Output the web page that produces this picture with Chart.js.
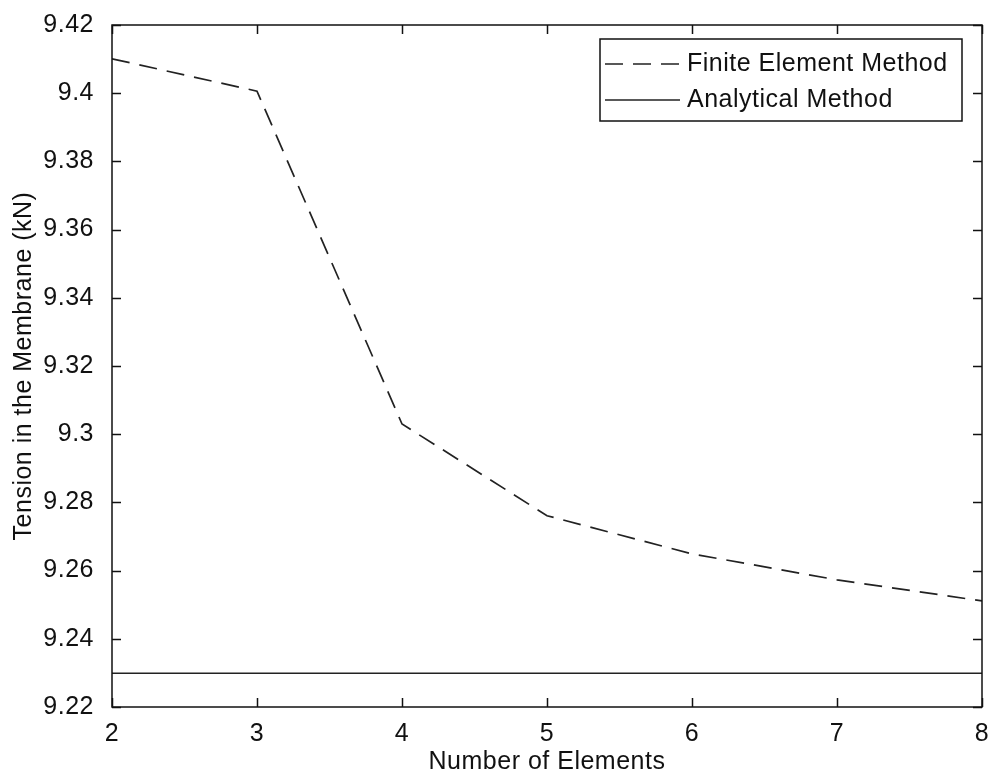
<!DOCTYPE html>
<html>
<head>
<meta charset="utf-8">
<script src="https://cdn.jsdelivr.net/npm/chart.js@4"></script>
<style>
  html, body { margin: 0; padding: 0; background: #fff; }
  #wrap { width: 990px; height: 777px; }
</style>
</head>
<body>
<div id="wrap"><canvas id="chart" width="990" height="777"></canvas></div>
<script>
// ===== Data =====
const elementCounts = [2, 3, 4, 5, 6, 7, 8];
const femTension = [9.4101, 9.4006, 9.3030, 9.2761, 9.2649, 9.2573, 9.2511];
const analyticalX = [2, 8];
const analyticalTension = [9.2299, 9.2299];
const xTicks = [2, 3, 4, 5, 6, 7, 8];
const yTicks = [9.22, 9.24, 9.26, 9.28, 9.30, 9.32, 9.34, 9.36, 9.38, 9.40, 9.42];

const FONT = { family: '"Liberation Sans", Arial, sans-serif', size: 25 };
const INK = '#111';

// slightly wider text, like the original bitmap font
const spacing = {
  id: 'spacing',
  beforeUpdate(chart) { chart.ctx.letterSpacing = '0.5px'; },
  beforeDraw(chart) { chart.ctx.letterSpacing = '0.5px'; }
};

// box around the axes + inward ticks on all four sides
const boxTicks = {
  id: 'boxTicks',
  afterDatasetsDraw(chart) {
    const { ctx, chartArea: a, scales: { x, y } } = chart;
    const len = 9;
    ctx.save();
    ctx.strokeStyle = INK;
    ctx.lineWidth = 1.5;
    ctx.strokeRect(a.left, a.top, a.right - a.left, a.bottom - a.top);
    ctx.beginPath();
    xTicks.forEach(v => {
      const px = Math.round(x.getPixelForValue(v)) + 0.5;
      ctx.moveTo(px, a.bottom); ctx.lineTo(px, a.bottom - len);
      ctx.moveTo(px, a.top); ctx.lineTo(px, a.top + len);
    });
    yTicks.forEach(v => {
      const py = Math.round(y.getPixelForValue(v)) + 0.5;
      ctx.moveTo(a.left, py); ctx.lineTo(a.left + len, py);
      ctx.moveTo(a.right, py); ctx.lineTo(a.right - len, py);
    });
    ctx.stroke();
    ctx.restore();
  }
};

// MATLAB-style boxed legend, top right inside the axes
const boxLegend = {
  id: 'boxLegend',
  afterDraw(chart) {
    const { ctx, chartArea: a } = chart;
    const w = 362, h = 82;
    const bx = a.right - 20 - w, by = a.top + 14;
    ctx.save();
    ctx.fillStyle = '#fff';
    ctx.fillRect(bx, by, w, h);
    ctx.strokeStyle = INK;
    ctx.lineWidth = 1.5;
    ctx.strokeRect(bx, by, w, h);
    ctx.font = `${FONT.size}px ${FONT.family}`;
    ctx.textBaseline = 'middle';
    ctx.fillStyle = INK;
    chart.data.datasets.forEach((ds, i) => {
      const ry = by + 25 + i * 36;
      ctx.beginPath();
      ctx.setLineDash(ds.borderDash || []);
      ctx.lineWidth = ds.borderWidth;
      ctx.strokeStyle = ds.borderColor;
      ctx.moveTo(bx + 5, ry);
      ctx.lineTo(bx + 80, ry);
      ctx.stroke();
      ctx.setLineDash([]);
      ctx.fillText(ds.label, bx + 87, ry);
    });
    ctx.restore();
  }
};

new Chart(document.getElementById('chart'), {
  type: 'line',
  data: {
    datasets: [
      {
        label: 'Finite Element Method',
        data: elementCounts.map((n, i) => ({ x: n, y: femTension[i] })),
        borderColor: '#222',
        borderWidth: 1.7,
        borderDash: [18, 10],
        pointRadius: 0,
        tension: 0,
        fill: false
      },
      {
        label: 'Analytical Method',
        data: analyticalX.map((n, i) => ({ x: n, y: analyticalTension[i] })),
        borderColor: '#222',
        borderWidth: 1.7,
        pointRadius: 0,
        fill: false
      }
    ]
  },
  options: {
    responsive: false,
    animation: false,
    layout: { padding: { top: 23, right: 0, left: 0, bottom: 0 } },
    plugins: { legend: { display: false }, tooltip: { enabled: false } },
    scales: {
      x: {
        type: 'linear',
        min: 2, max: 8,
        afterFit: s => { s.height = 70; s.paddingRight = 8; s.paddingLeft = 0; },
        afterBuildTicks: s => { s.ticks = xTicks.map(v => ({ value: v })); },
        grid: { display: false },
        border: { display: false },
        ticks: { color: INK, font: FONT, padding: 4, maxRotation: 0 },
        title: { display: true, text: 'Number of Elements', color: INK, font: FONT, padding: 0 }
      },
      y: {
        type: 'linear',
        min: 9.22, max: 9.42,
        afterFit: s => { s.width = 112; },
        afterBuildTicks: s => { s.ticks = yTicks.map(v => ({ value: v })); },
        grid: { display: false },
        border: { display: false },
        ticks: {
          color: INK, font: FONT, padding: 10,
          callback: v => String(parseFloat(v.toFixed(2)))
        },
        title: { display: true, text: 'Tension in the Membrane (kN)', color: INK, font: FONT, padding: { top: 9, bottom: 0 } }
      }
    }
  },
  plugins: [spacing, boxTicks, boxLegend]
});
</script>
</body>
</html>
